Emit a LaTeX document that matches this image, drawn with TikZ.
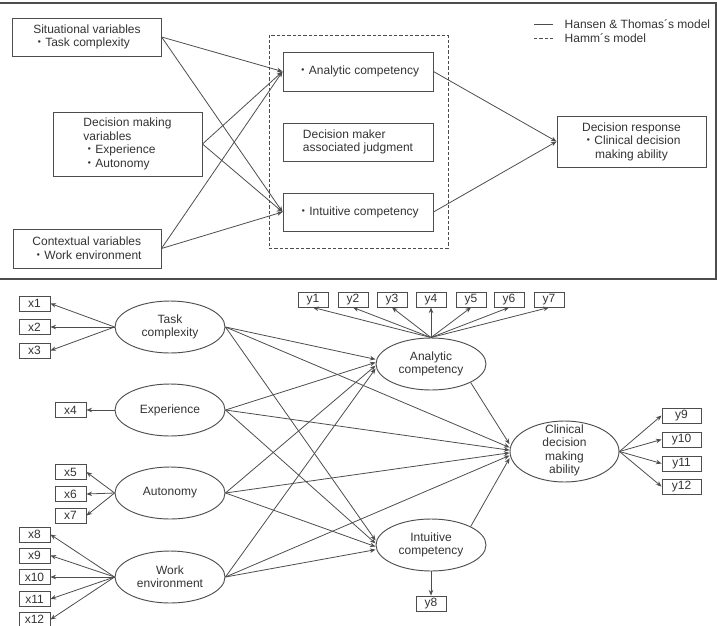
\documentclass[tikz,border=0pt]{standalone}
\usepackage{fontspec}
\setmainfont{Liberation Sans}
\newfontfamily\cjkfont{Noto Sans CJK JP}
\usetikzlibrary{arrows.meta,shapes.geometric}
\newcommand\kdot{{\cjkfont ・}}
\definecolor{ink}{HTML}{333333}
\definecolor{edge}{HTML}{4d4d4d}

\begin{document}
\begin{tikzpicture}[x=0.75pt,y=-0.75pt,
  every node/.style={text=ink, font=\fontsize{9}{10.2}\selectfont},
  box/.style={draw=edge, line width=0.7pt, inner sep=0pt},
  lat/.style={ellipse, draw=edge, line width=0.7pt, inner sep=0pt,
    minimum width=82.5pt, minimum height=39pt, align=center,
    font=\fontsize{9}{10}\selectfont},
  xind/.style={box, minimum width=23.25pt, minimum height=11.25pt},
  yind/.style={box, minimum width=22.5pt, minimum height=11.25pt},
  wind/.style={box, minimum width=29.25pt, minimum height=11.25pt},
  arr/.style={draw=edge, line width=0.6pt, -{Stealth[length=4.2pt,width=3.4pt]}},
  dashes/.style={dash pattern=on 2.5pt off 1.5pt},
]
\useasboundingbox (0,0) rectangle (717,625);

% ---------- upper panel: conceptual framework ----------
\draw[edge, line width=0.8pt] (0,3) -- (716,3) -- (716,279) -- (0,279);

\node[box, minimum width=111.2pt, minimum height=28.5pt, align=left] (sit) at (87,37)
  {Situational variables\\\kdot Task complexity};
\node[box, minimum width=111.75pt, minimum height=48pt, align=left] (dmv) at (127.5,144)
  {Decision making\\variables\\\kdot Experience\\\kdot Autonomy};
\node[box, minimum width=111pt, minimum height=29.25pt, align=left] (ctx) at (87,248.5)
  {Contextual variables\\\kdot Work environment};

\node[draw=edge, line width=0.7pt, dashes, inner sep=0pt,
  minimum width=134.25pt, minimum height=159.75pt] (hamm) at (358.5,141.5) {};
\node[box, minimum width=112.5pt, minimum height=29.25pt] (anab) at (358,71.5)
  {\kdot Analytic competency};
\node[box, minimum width=112.5pt, minimum height=28.5pt, align=left] (dmj) at (358,142)
  {Decision maker\\associated judgment};
\node[box, minimum width=112.5pt, minimum height=28.5pt] (intb) at (358,212)
  {\kdot Intuitive competency};
\node[box, minimum width=111.75pt, minimum height=38.25pt, align=center] (resp) at (631.5,141.5)
  {Decision response\\\kdot Clinical decision\\making ability};

\foreach \s in {sit,dmv,ctx}{
  \draw[arr] (\s.east) -- (anab.west);
  \draw[arr] (\s.east) -- (intb.west);
}
\draw[arr] (anab.east) -- (resp.west);
\draw[arr] (intb.east) -- (resp.west);

% legend
\coordinate (la1) at (534,24);
\coordinate (lb1) at (553,24);
\coordinate (la2) at (534,38);
\coordinate (lb2) at (553,38);
\draw[edge, line width=0.6pt] (la1) -- (lb1);
\draw[edge, line width=0.6pt, dashes] (la2) -- (lb2);
\node[anchor=west] (lt1) at (560,24) {Hansen \& Thomas´s model};
\node[anchor=west] (lt2) at (560,38) {Hamm´s model};

% ---------- lower panel: structural equation model ----------
\node[lat] (task) at (170,327) {Task\\complexity};
\node[lat] (exp)  at (170,410) {Experience};
\node[lat] (aut)  at (170,493) {Autonomy};
\node[lat] (work) at (170,577) {Work\\environment};
\node[lat] (ana)  at (431,364) {Analytic\\competency};
\node[lat] (intu) at (431,545) {Intuitive\\competency};
\node[lat, minimum width=81.75pt, minimum height=45.75pt] (cda) at (564.5,451.5) {};
\node[align=center, font=\fontsize{9}{10}\selectfont] (cdatext) at (564.5,450.5)
  {Clinical\\decision\\making\\ability};

% exogenous indicators
\node[xind] (x1)  at (34.5,303.5) {x1};
\node[xind] (x2)  at (34.5,327)   {x2};
\node[xind] (x3)  at (34.5,350.5) {x3};
\node[xind] (x4)  at (70.5,410)   {x4};
\node[xind] (x5)  at (70.5,472)   {x5};
\node[xind] (x6)  at (70.5,494)   {x6};
\node[xind] (x7)  at (70.5,515.5) {x7};
\node[xind] (x8)  at (34.5,534.5) {x8};
\node[xind] (x9)  at (34.5,555.5) {x9};
\node[xind] (x10) at (34.5,577)   {x10};
\node[xind] (x11) at (34.5,599)   {x11};
\node[xind] (x12) at (34.5,619.5) {x12};

\foreach \i in {1,2,3}{\draw[arr] (task.west) -- (x\i.east);}
\draw[arr] (exp.west) -- (x4.east);
\foreach \i in {5,6,7}{\draw[arr] (aut.west) -- (x\i.east);}
\foreach \i in {8,...,12}{\draw[arr] (work.west) -- (x\i.east);}

% endogenous indicators
\foreach \i/\xx in {1/313,2/353,3/392,4/431,5/471,6/509,7/549}{
  \node[yind] (y\i) at (\xx,299.5) {y\i};
  \draw[arr] (ana.north) -- (y\i.south);
}
\node[yind] (y8) at (431,603.5) {y8};
\draw[arr] (intu.south) -- (y8.north);
\foreach \i/\yy in {9/415.5,10/439.5,11/463.5,12/486.5}{
  \node[wind] (y\i) at (681.5,\yy) {y\i};
  \draw[arr] (cda.east) -- (y\i.west);
}

% structural paths
\foreach \s/\da/\dc/\di in {task/3.5pt/3pt/3.5pt, exp/1.2pt/1pt/1.2pt,
                            aut/-1.2pt/-1pt/-1.2pt, work/-3.5pt/-3pt/-3.5pt}{
  \draw[arr] (\s.east) -- ([yshift=\da]ana.west);
  \draw[arr] (\s.east) -- ([yshift=\dc]cda.west);
  \draw[arr] (\s.east) -- ([yshift=\di]intu.west);
}
\draw[arr] (ana.-25) -- ([yshift=5.5pt]cda.west);
\draw[arr] (intu.25) -- ([yshift=-5pt]cda.west);
\end{tikzpicture}
\end{document}
